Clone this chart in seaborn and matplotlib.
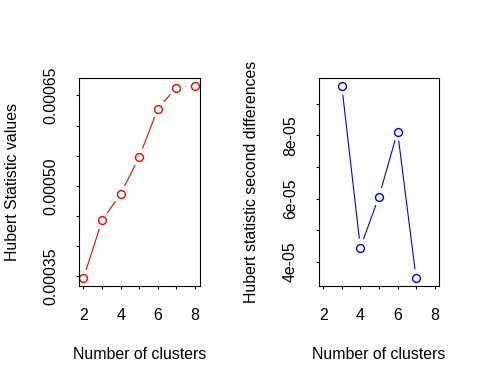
import matplotlib
matplotlib.use("Agg")
import matplotlib.pyplot as plt
import seaborn as sns
import pandas as pd

clusters = [2, 3, 4, 5, 6, 7, 8]
hubert_values = [0.000347, 0.000443, 0.000487, 0.000548, 0.000628, 0.000663, 0.000666]
diff_clusters = [3, 4, 5, 6, 7]
hubert_second_diff = [9.57e-05, 4.45e-05, 6.06e-05, 8.12e-05, 3.48e-05]

x_ticks = [2, 3, 4, 5, 6, 7, 8]
x_labels = ["2", "", "4", "", "6", "", "8"]
left_yticks = [0.00035, 0.00040, 0.00045, 0.00050, 0.00055, 0.00060, 0.00065]
left_ylabels = ["0.00035", "", "", "0.00050", "", "", "0.00065"]
right_yticks = [4e-05, 5e-05, 6e-05, 7e-05, 8e-05, 9e-05]
right_ylabels = ["4e-05", "", "6e-05", "", "8e-05", ""]

sns.set_theme(style="white")
plt.rcParams['font.family'] = ['Liberation Sans', 'DejaVu Sans']
plt.rcParams['font.size'] = 11.4

fig = plt.figure(figsize=(4.8, 3.84), dpi=100)
ax1 = fig.add_axes([79/480, 1 - 286/384, 120.5/480, 208/384])
ax2 = fig.add_axes([318.7/480, 1 - 286/384, 120.5/480, 208/384])


def panel(ax, xs, ys, color, yticks, ylabels, ylabel):
    df = pd.DataFrame({"x": xs, "y": ys})
    sns.lineplot(data=df, x="x", y="y", ax=ax, color=color, linewidth=0.8, zorder=1)
    sns.scatterplot(data=df, x="x", y="y", ax=ax, s=170, color="white",
                    edgecolor="none", linewidth=0, zorder=2)
    sns.scatterplot(data=df, x="x", y="y", ax=ax, s=32, facecolor="white",
                    edgecolor=color, linewidth=1.0, zorder=3)
    ax.set_xlim(1.76, 8.24)
    lo, hi = min(ys), max(ys)
    pad = (hi - lo) * 0.04
    ax.set_ylim(lo - pad, hi + pad)
    ax.set_xticks(x_ticks)
    ax.set_xticklabels(x_labels)
    ax.set_yticks(yticks)
    ax.set_yticklabels(ylabels, rotation=90, va="center")
    ax.tick_params(axis="x", pad=14)
    ax.tick_params(axis="y", pad=13)
    ax.tick_params(axis="both", direction="out", length=2, width=0.8,
                   color="black", labelsize=11.4, labelcolor="black",
                   bottom=True, left=True)
    for s in ax.spines.values():
        s.set_visible(True)
        s.set_color("black")
        s.set_linewidth(0.8)
        s.set_zorder(5)
    ax.set_xlabel("Number of clusters", fontsize=11.4, labelpad=17, color="black")
    ax.set_ylabel(ylabel, fontsize=11.4, labelpad=17, color="black")
    ax.grid(False)


panel(ax1, clusters, hubert_values, "#FF0000", left_yticks, left_ylabels,
      "Hubert Statistic values")
panel(ax2, diff_clusters, hubert_second_diff, "#0000FF", right_yticks, right_ylabels,
      "Hubert statistic second differences")

fig.savefig("out.png", dpi=100)
